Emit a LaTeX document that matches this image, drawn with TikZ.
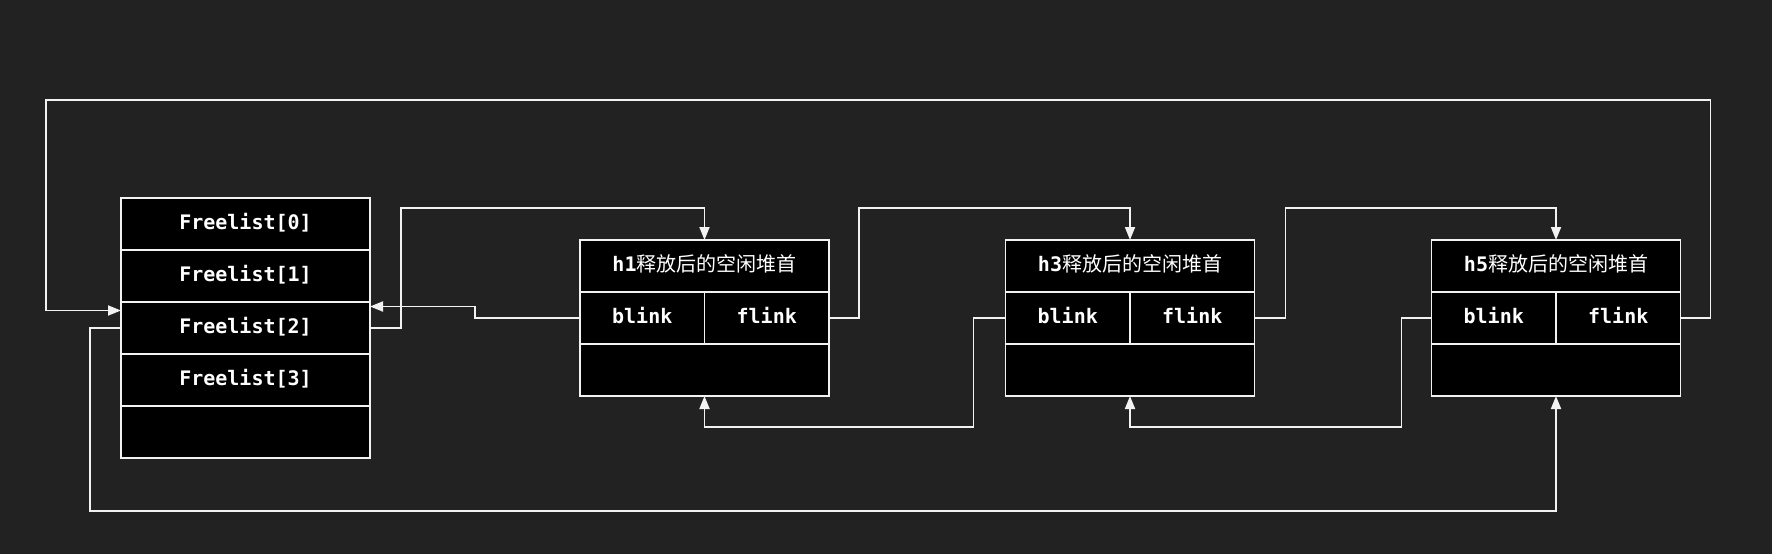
\documentclass[tikz,border=0pt]{standalone}
\usepackage{fontspec}
\usetikzlibrary{arrows.meta,positioning}
\newfontfamily\mono{DejaVu Sans Mono}
\newfontfamily\cjk{Noto Sans CJK SC}
\definecolor{bgdark}{HTML}{222222}
\definecolor{linewhite}{HTML}{F2F2F2}

\begin{document}
\begin{tikzpicture}[
  x=1pt, y=-1pt,
  >={Triangle[length=13pt,width=10pt]},
  cell/.style={rectangle, draw=linewhite, fill=black, line width=1.8pt, minimum width=249pt, minimum height=52pt, inner sep=0pt, outer sep=0pt, text height=15pt, text depth=4pt, text=white, font=\mono\bfseries\fontsize{20}{24}\selectfont},
  halfcell/.style={cell, minimum width=124.5pt},
  link/.style={->, draw=linewhite, line width=1.8pt}
]
  \fill[bgdark] (0,0) rectangle (1772,554);
  \useasboundingbox (0,0) rectangle (1772,554);

  % freelist array
  \node[cell] (fl0) at (245.5,224) {Freelist[0]};
  \foreach \i/\p in {1/0,2/1,3/2}
    \node[cell, below=0pt of fl\p] (fl\i) {Freelist[\i]};
  \node[cell, below=0pt of fl3] (fl4) {};

  % free heap blocks
  \foreach \n/\x in {1/704.5,3/1130,5/1556} {
    \node[cell] (h\n) at (\x,266) {h\n{\cjk\mdseries 释放后的空闲堆首}};
    \node[halfcell, below right=0pt and 0pt of h\n.south west] (b\n) {blink};
    \node[halfcell, below left=0pt and 0pt of h\n.south east] (f\n) {flink};
    \node[cell, below right=0pt and 0pt of b\n.south west] (d\n) {};
  }

  \coordinate (topleft) at (46,100);

  \draw[link] (fl2.east) -- ++(31,0) |- ([yshift=32]h1.north) -- (h1.north);
  \draw[link] (b1.west) -- ++(-105,0) |- ([yshift=21.5]fl2.east);
  \draw[link] (f1.east) -- ++(30,0) |- ([yshift=32]h3.north) -- (h3.north);
  \draw[link] (b3.west) -- ++(-32,0) |- ([yshift=-31]d1.south) -- (d1.south);
  \draw[link] (f3.east) -- ++(31,0) |- ([yshift=32]h5.north) -- (h5.north);
  \draw[link] (b5.west) -- ++(-30,0) |- ([yshift=-31]d3.south) -- (d3.south);
  \draw[link] (f5.east) -- ++(30,0) |- (topleft) |- ([yshift=17.5]fl2.west);
  \draw[link] (fl2.west) -- ++(-31,0) |- ([yshift=-115]d5.south) -- (d5.south);
\end{tikzpicture}
\end{document}
